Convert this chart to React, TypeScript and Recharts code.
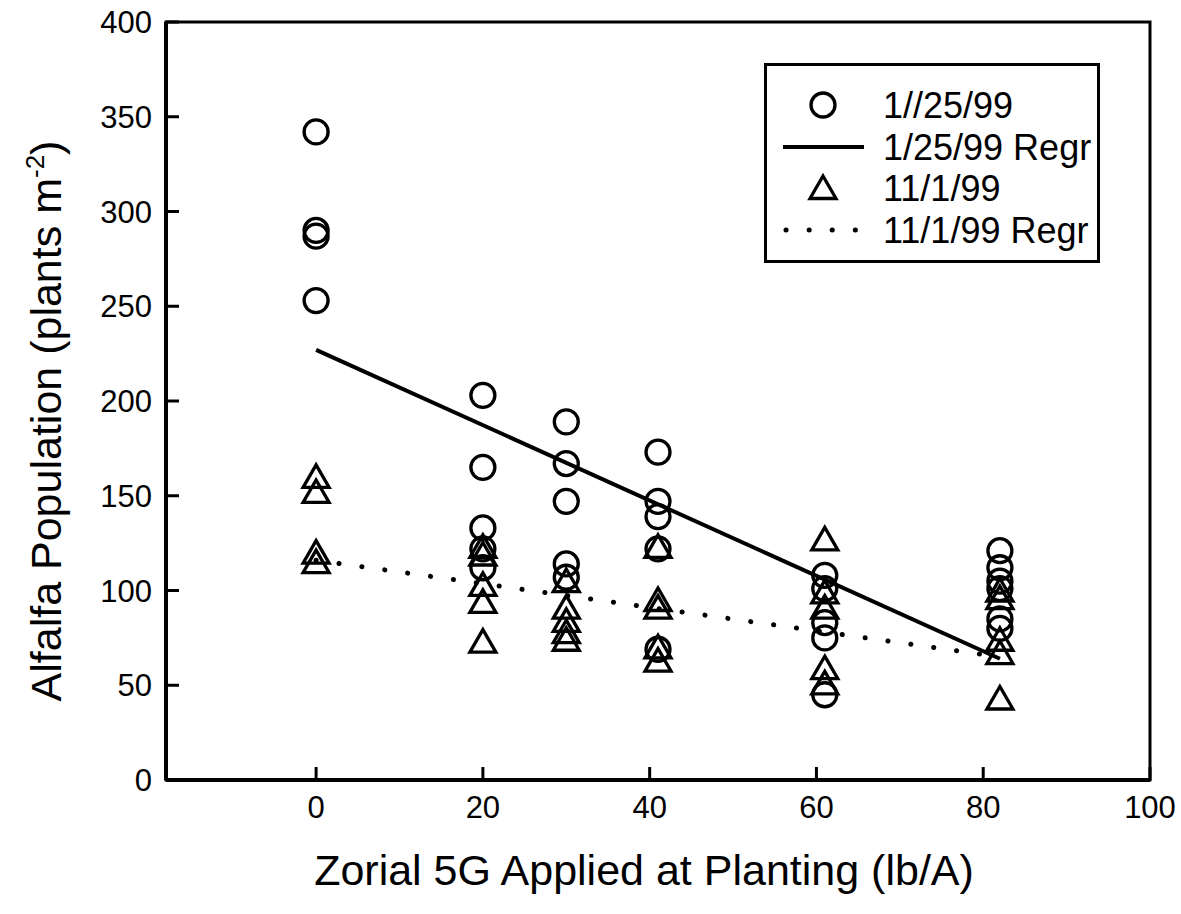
import { ScatterChart, Scatter, XAxis, YAxis, ReferenceArea, Legend } from "recharts";

/* ---------------- data ---------------- */

const rates = [0, 20, 30, 41, 61, 82];

// 1/25/99 plant counts per rate (plants m-2)
const jan25 = [
  [342, 290, 287, 253],
  [203, 165, 133, 122, 112],
  [189, 167, 147, 114, 107],
  [173, 147, 139, 122, 69],
  [108, 101, 83, 75, 45],
  [121, 112, 105, 101, 85, 80],
];

// 11/1/99 plant counts per rate
const nov1 = [
  [160, 152, 120, 115],
  [123, 119, 103, 94, 73],
  [105, 91, 84, 78, 74],
  [123, 95, 91, 70, 63],
  [127, 99, 91, 59, 51],
  [100, 96, 74, 67, 43],
];

// regression end points
const janRegr = [{ x: 0, y: 227 }, { x: 82, y: 64 }];
const novRegr = [{ x: 0, y: 116 }, { x: 82, y: 65 }];

const xTicks = [0, 20, 40, 60, 80, 100];
const yTicks = [0, 50, 100, 150, 200, 250, 300, 350, 400];

const seriesNames = ["1//25/99", "1/25/99 Regr", "11/1/99", "11/1/99 Regr"];

const flatten = (groups: number[][]) =>
  groups.flatMap((g, i) => g.map(v => ({ x: rates[i], y: v })));

const janPts = flatten(jan25);
const novPts = flatten(nov1);

/* ---------------- styles ---------------- */

const FONT = "'Liberation Sans', Arial, Helvetica, sans-serif";
const W = 1181;
const H = 914;
const SW = 3.3; // marker stroke

const Ring = (p: any) => (
  <circle cx={p.cx} cy={p.cy} r={12} fill="none" stroke="#000" strokeWidth={SW} />
);

const triPath = (cx: number, cy: number) =>
  `M${cx},${cy - 12} L${cx + 13},${cy + 10.5} L${cx - 13},${cy + 10.5} Z`;

const Tri = (p: any) => (
  <path d={triPath(p.cx, p.cy)} fill="none" stroke="#000" strokeWidth={SW} strokeLinejoin="miter" />
);

const NoDot = () => <g />;

// tick label: plain text, bigger than the recharts default
const YTick = (p: any) => (
  <text x={p.x} y={p.y} dy={11} textAnchor="end" fontSize={31} fontFamily={FONT} fill="#000">
    {p.payload.value}
  </text>
);

const XTick = (p: any) => (
  <text x={p.x} y={p.y} dy={23} textAnchor="middle" fontSize={31} fontFamily={FONT} fill="#000">
    {p.payload.value}
  </text>
);

/* ---------------- labels ---------------- */

const YTitle = (props: any) => {
  const vb = props.viewBox || { x: 0, y: 22, width: 166, height: 758 };
  const cx = 61;
  const cy = vb.y + vb.height / 2 + 20;
  return (
    <text
      x={cx} y={cy} transform={`rotate(-90 ${cx} ${cy})`}
      textAnchor="middle" fontSize={43} fontFamily={FONT} fill="#000"
    >
      Alfalfa Population (plants m
      <tspan fontSize={26} dy={-17}>-2</tspan>
      <tspan dy={17}>)</tspan>
    </text>
  );
};

const XTitle = (props: any) => {
  const vb = props.viewBox || { x: 166, y: 780, width: 984, height: 134 };
  return (
    <text
      x={vb.x + vb.width / 2 - 14} y={885}
      textAnchor="middle" fontSize={43} fontFamily={FONT} fill="#000"
    >
      Zorial 5G Applied at Planting (lb/A)
    </text>
  );
};

/* ---------------- legend ---------------- */

const LegendBox = () => {
  const rowY = [42, 84, 125, 167];
  const tx = 119;
  return (
    <svg width={336} height={200} style={{ display: "block" }}>
      <rect x={1.5} y={1.5} width={333} height={197} fill="#fff" stroke="#000" strokeWidth={3} />
      <circle cx={59} cy={rowY[0]} r={12} fill="none" stroke="#000" strokeWidth={SW} />
      <line x1={19} x2={100} y1={rowY[1]} y2={rowY[1]} stroke="#000" strokeWidth={4} />
      <path d={triPath(59, rowY[2])} fill="none" stroke="#000" strokeWidth={SW} />
      <line
        x1={22} x2={92} y1={rowY[3]} y2={rowY[3]} stroke="#000" strokeWidth={5}
        strokeDasharray="0.1 23" strokeLinecap="round"
      />
      {seriesNames.map((n, i) => (
        <text key={n} x={tx} y={rowY[i] + 13} fontSize={36} fontFamily={FONT} fill="#000">
          {n}
        </text>
      ))}
    </svg>
  );
};

/* ---------------- chart ---------------- */

export default function App() {
  return (
    <div style={{ width: W, height: H, fontFamily: FONT, background: "#fff", position: "relative" }}>
      <style>{`body{margin:0}`}</style>
      <ScatterChart width={W} height={H} margin={{ top: 22, right: 31, bottom: 0, left: 0 }}>
        <ReferenceArea
          x1={-18} x2={100} y1={0} y2={400}
          fill="none" fillOpacity={0} stroke="#000" strokeWidth={3}
        />
        <XAxis
          type="number" dataKey="x" domain={[-18, 100]} ticks={xTicks}
          allowDataOverflow height={134}
          axisLine={{ stroke: "#000", strokeWidth: 4 }}
          tickLine={{ stroke: "#000", strokeWidth: 3 }}
          tickSize={-13} tickMargin={28}
          tick={<XTick />}
          label={<XTitle />}
        />
        <YAxis
          type="number" dataKey="y" domain={[0, 400]} ticks={yTicks}
          allowDataOverflow width={166}
          axisLine={{ stroke: "#000", strokeWidth: 4 }}
          tickLine={{ stroke: "#000", strokeWidth: 3 }}
          tickSize={-13} tickMargin={27}
          tick={<YTick />}
          label={<YTitle />}
        />
        <Legend
          layout="vertical" align="center" verticalAlign="middle"
          content={<LegendBox />}
          wrapperStyle={{ position: "absolute", left: 764, top: 63, width: 336, height: 200 }}
        />
        <Scatter
          name="1/25/99 Regr" data={janRegr} shape={<NoDot />}
          line={{ stroke: "#000", strokeWidth: 4 }}
          isAnimationActive={false}
        />
        <Scatter
          name="11/1/99 Regr" data={novRegr} shape={<NoDot />}
          line={{ stroke: "#000", strokeWidth: 5, strokeDasharray: "0.1 23", strokeLinecap: "round" }}
          isAnimationActive={false}
        />
        <Scatter name="1//25/99" data={janPts} shape={<Ring />} isAnimationActive={false} />
        <Scatter name="11/1/99" data={novPts} shape={<Tri />} isAnimationActive={false} />
      </ScatterChart>
    </div>
  );
}
